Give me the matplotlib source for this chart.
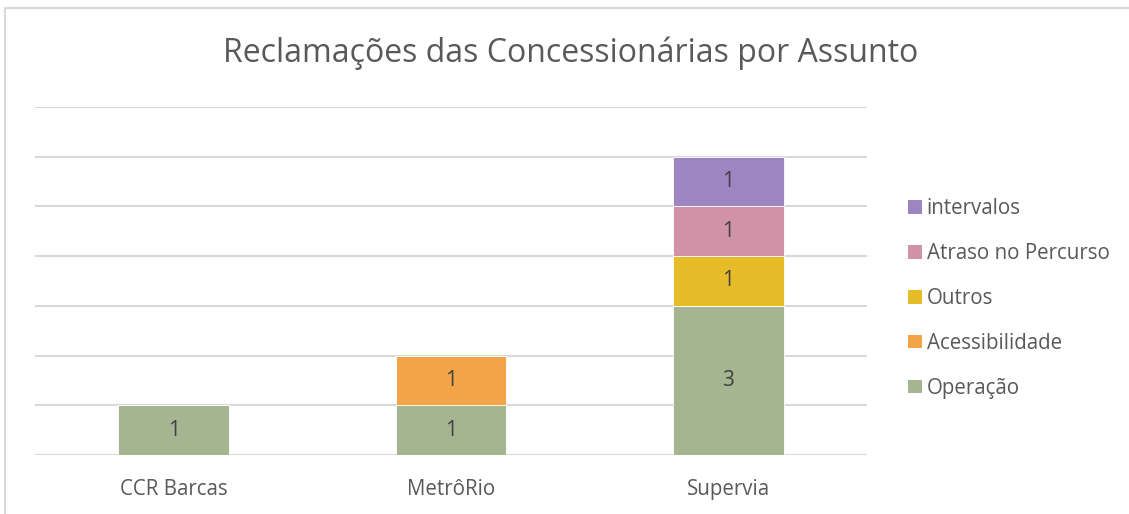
import numpy as np
import matplotlib
matplotlib.use("Agg")
import matplotlib.pyplot as plt
from matplotlib.patches import Rectangle, Patch

# data
categories = ["CCR Barcas", "MetrôRio", "Supervia"]
subjects = ["Operação", "Acessibilidade", "Outros", "Atraso no Percurso", "intervalos"]
operacao = [1, 1, 3]
acessibilidade = [0, 1, 0]
outros = [0, 0, 1]
atraso = [0, 0, 1]
intervalos = [0, 0, 1]
colors = ["#A5B592", "#F3A447", "#E7BC29", "#D092A7", "#9C85C0"]

series = [operacao, acessibilidade, outros, atraso, intervalos]

plt.rcParams['font.family'] = ['Open Sans', 'DejaVu Sans']
txt = "#595959"

fig = plt.figure(figsize=(11.29, 5.14), dpi=100)
ax = fig.add_axes([35/1129, (514-455)/514, (867-35)/1129, (455-107)/514])

x = np.arange(len(categories))
bottom = np.zeros(len(categories))
for vals, name, c in zip(series, subjects, colors):
    vals = np.array(vals)
    bars = ax.bar(x, vals, 0.4, bottom=bottom, color=c, edgecolor="white",
                  linewidth=0.6, label=name, zorder=3)
    for b, v, b0 in zip(bars, vals, bottom):
        if v > 0:
            ax.text(b.get_x() + b.get_width()/2, b0 + v/2, str(v), ha="center",
                    va="center", fontsize=15, color="#404040", zorder=4)
    bottom = bottom + vals

ax.set_xlim(-0.5, 2.5)
ax.set_ylim(0, 7)
ax.set_yticks(range(0, 8))
ax.yaxis.grid(True, color="#D9D9D9", linewidth=1.5, zorder=0)
ax.axhline(0, color="#D9D9D9", linewidth=2, zorder=2)
ax.tick_params(axis="y", left=False, labelleft=False)
ax.tick_params(axis="x", length=0, pad=17, labelsize=14.8, labelcolor=txt)
ax.set_xticks(x)
ax.set_xticklabels(categories)
for s in ax.spines.values():
    s.set_visible(False)

fig.text(571/1129, 1 - 53/514, "Reclamações das Concessionárias por Assunto",
         ha="center", va="center", fontsize=23, color=txt)

handles = [Patch(facecolor=c, label=n) for c, n in zip(colors, subjects)][::-1]
leg = fig.legend(handles=handles, loc="upper left",
                 bbox_to_anchor=(900/1129, 1 - 190/514), frameon=False,
                 handlelength=0.65, handleheight=0.65, handletextpad=0.25,
                 labelspacing=1.16, fontsize=14.8, borderaxespad=0)
for t in leg.get_texts():
    t.set_color(txt)

fig.patches.append(Rectangle((5/1129, -0.1), 1.2, 1.1 - 8/514,
                             transform=fig.transFigure, fill=False,
                             edgecolor="#D9D9D9", linewidth=1.5))

fig.savefig("out.png", dpi=100, facecolor="white")
